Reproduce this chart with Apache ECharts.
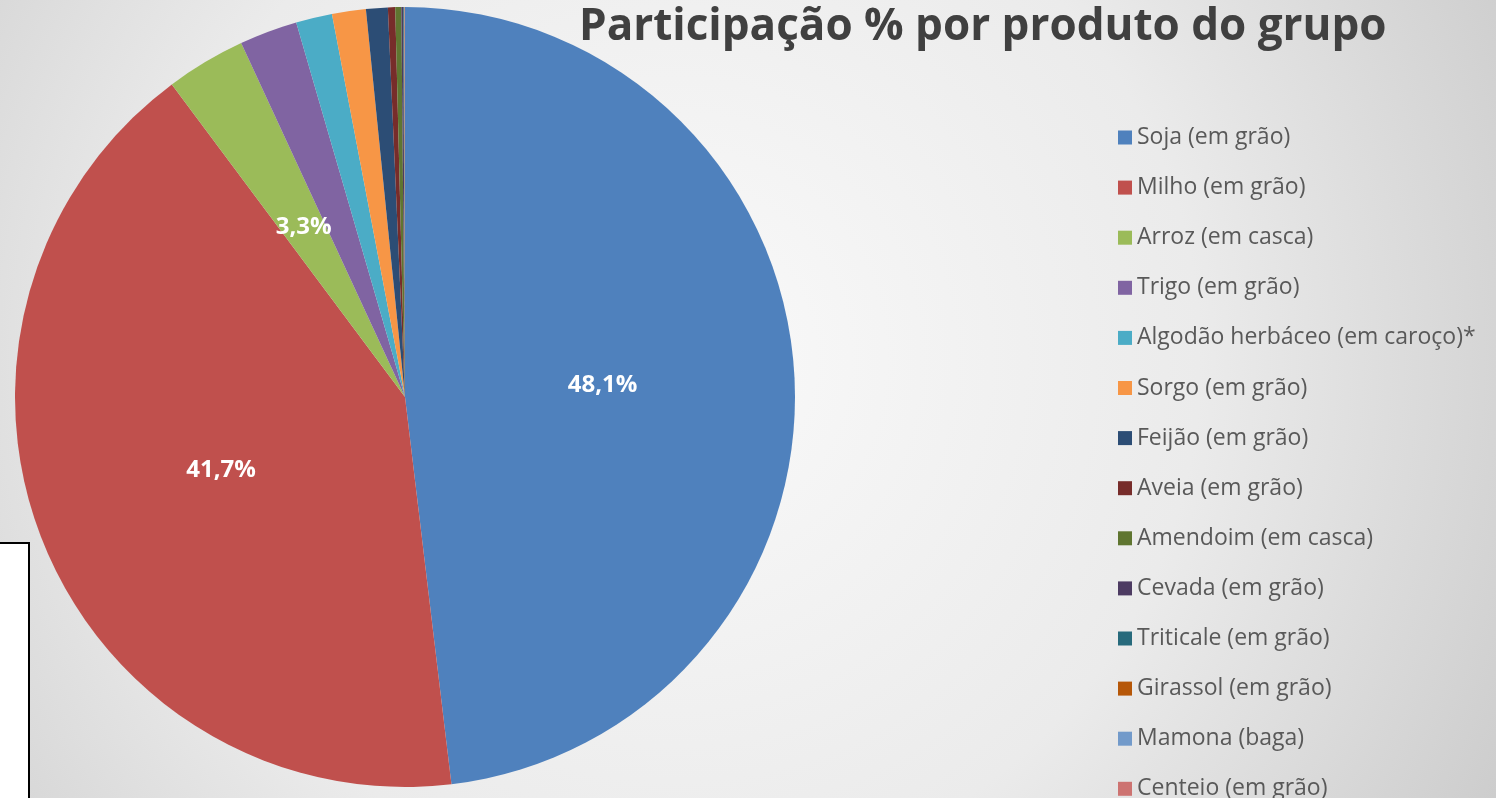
<!DOCTYPE html>
<html>
<head>
<meta charset="utf-8">
<script src="https://cdn.jsdelivr.net/npm/echarts@6/dist/echarts.min.js"></script>
<style>
  html, body { margin: 0; padding: 0; }
  #chart { width: 1496px; height: 798px; }
</style>
</head>
<body>
<div id="chart"></div>
<script>
const produtos = [
    'Soja (em grão)',
    'Milho (em grão)',
    'Arroz (em casca)',
    'Trigo (em grão)',
    'Algodão herbáceo (em caroço)*',
    'Sorgo (em grão)',
    'Feijão (em grão)',
    'Aveia (em grão)',
    'Amendoim (em casca)',
    'Cevada (em grão)',
    'Triticale (em grão)',
    'Girassol (em grão)',
    'Mamona (baga)',
    'Centeio (em grão)'
];
const participacao = [48.1, 41.7, 3.3, 2.4, 1.5, 1.4, 0.9, 0.3, 0.25, 0.08, 0.03, 0.02, 0.01, 0.01];
const cores = [
    '#4f81bd', '#c0504d', '#9bbb59', '#8064a2', '#4bacc6', '#f79646', '#2c4d75',
    '#772c2a', '#5f7530', '#4d3b62', '#276a7c', '#b65708', '#729aca', '#cd7371'
];

const chart = echarts.init(document.getElementById('chart'));

// so as 3 maiores fatias levam rotulo, como no original
const dados = produtos.map((nome, i) => ({
    name: nome,
    value: participacao[i],
    label: { show: participacao[i] >= 3 }
}));

const option = {
    backgroundColor: {
        type: 'radial',
        x: 0.45, y: 0.45, r: 1.2,
        colorStops: [
            { offset: 0, color: '#fafafa' },
            { offset: 0.55, color: '#ebebeb' },
            { offset: 1, color: '#cbcbcb' }
        ]
    },
    color: cores,
    title: {
        text: 'Participação % por produto do grupo',
        left: 574,
        top: 0,
        textStyle: {
            fontFamily: 'Open Sans',
            fontSize: 44,
            fontWeight: 'bold',
            color: '#404040'
        }
    },
    legend: {
        type: 'plain',
        orient: 'vertical',
        left: 1118,
        top: 126,
        height: 780,
        padding: 0,
        itemWidth: 14,
        itemHeight: 14,
        itemGap: 27.1,
        icon: 'rect',
        data: produtos,
        textStyle: {
            fontFamily: 'Open Sans',
            fontSize: 23,
            lineHeight: 22,
            color: '#595959',
            padding: [0, 0, 0, 0]
        }
    },
    graphic: [
        {
            type: 'rect',
            shape: { x: -2, y: 543, width: 31, height: 260 },
            style: { fill: '#ffffff', stroke: '#000000', lineWidth: 2 },
            z: 10
        }
    ],
    series: [
        {
            name: 'Participação',
            type: 'pie',
            center: [405, 397],
            radius: [0, 390],
            startAngle: 90,
            clockwise: true,
            avoidLabelOverlap: false,
            itemStyle: {
                borderWidth: 0
            },
            label: {
                position: 'inside',
                color: '#ffffff',
                fontFamily: 'Open Sans',
                fontSize: 24,
                fontWeight: 'bold',
                formatter: (p) => p.value.toFixed(1).replace('.', ',') + '%'
            },
            labelLine: { show: false },
            emphasis: { disabled: true },
            data: dados
        }
    ]
};

chart.setOption(option);
</script>
</body>
</html>
